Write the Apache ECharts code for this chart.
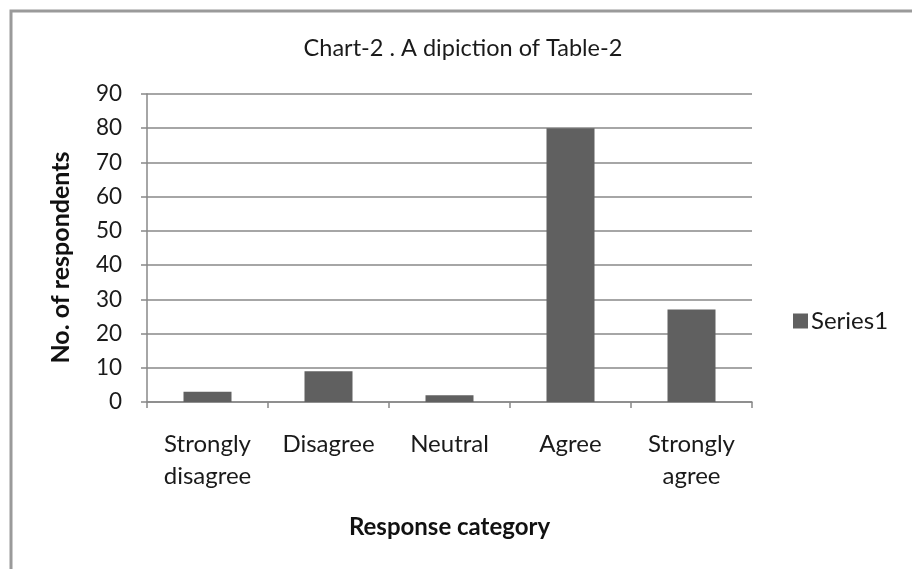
<!DOCTYPE html>
<html>
<head>
<meta charset="utf-8">
<script src="https://cdn.jsdelivr.net/npm/echarts@6/dist/echarts.min.js"></script>
<style>
  html, body { margin: 0; padding: 0; background: #ffffff; }
  #chart { width: 912px; height: 569px; }
</style>
</head>
<body>
<div id="chart"></div>
<script>
// Response categories and respondent counts
const categories = ['Strongly\ndisagree', 'Disagree', 'Neutral', 'Agree', 'Strongly\nagree'];
const series1 = [3, 9, 2, 80, 27];
const yTicks = { min: 0, max: 90, interval: 10 };

const FONT = 'Lato, "Open Sans", sans-serif';
const chart = echarts.init(document.getElementById('chart'), null, { renderer: 'canvas' });

chart.setOption({
  backgroundColor: '#ffffff',
  animation: false,
  title: {
    text: 'Chart-2 . A dipiction of Table-2',
    left: 458,
    top: 31,
    textAlign: 'center',
    textStyle: { fontFamily: FONT, fontSize: 23.5, fontWeight: 'normal', color: '#1a1a1a' }
  },
  legend: {
    data: ['Series1'],
    left: 793,
    top: 309,
    padding: 0,
    itemWidth: 15,
    itemHeight: 15,
    itemGap: 4,
    icon: 'rect',
    textStyle: { fontFamily: FONT, fontSize: 24, color: '#1a1a1a', padding: [0, 0, 0, -2] }
  },
  grid: { left: 147, right: 160, top: 94, bottom: 167, containLabel: false },
  xAxis: {
    type: 'category',
    data: categories,
    name: 'Response category',
    nameLocation: 'middle',
    nameGap: 113,
    nameTextStyle: { fontFamily: FONT, fontSize: 24, fontWeight: 'bold', color: '#111' },
    axisLine: { lineStyle: { color: '#888888', width: 1.5 } },
    axisTick: { show: true, alignWithLabel: false, length: 6, lineStyle: { color: '#888888', width: 1.5 } },
    axisLabel: { fontFamily: FONT, fontSize: 24, color: '#1a1a1a', margin: 26, lineHeight: 32, interval: 0 }
  },
  yAxis: {
    type: 'value',
    min: yTicks.min,
    max: yTicks.max,
    interval: yTicks.interval,
    name: 'No. of respondents',
    nameLocation: 'middle',
    nameGap: 74,
    nameRotate: 90,
    nameTextStyle: { fontFamily: FONT, fontSize: 25, fontWeight: 'bold', color: '#111', padding: [0, 19, 0, 0] },
    axisLine: { show: true, lineStyle: { color: '#888888', width: 1.5 } },
    axisTick: { show: true, length: 6, lineStyle: { color: '#888888', width: 1.5 } },
    axisLabel: { fontFamily: FONT, fontSize: 22.5, color: '#1a1a1a', margin: 25 },
    splitLine: { lineStyle: { color: '#888888', width: 1.5 } }
  },
  series: [{
    name: 'Series1',
    type: 'bar',
    data: series1,
    barWidth: 48,
    itemStyle: { color: '#606060' }
  }],
  graphic: [{
    type: 'rect',
    shape: { x: 11, y: 11, width: 1000, height: 700 },
    style: { fill: 'none', stroke: '#9a9a9a', lineWidth: 3 },
    silent: true
  }]
});
</script>
</body>
</html>
